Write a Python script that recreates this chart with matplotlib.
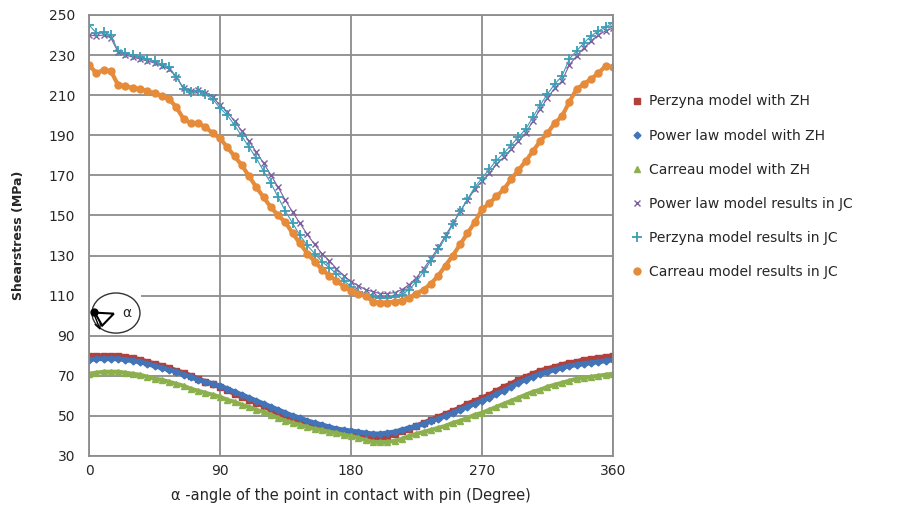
import matplotlib
matplotlib.use("Agg")
import matplotlib.pyplot as plt
import numpy as np
from matplotlib.patches import Ellipse, Rectangle, Polygon

# angle of the point in contact with pin, every 5 degrees
angle = list(range(0, 361, 5))

perzyna_zh = [80, 80, 80, 80, 80, 79.5, 79, 78, 77, 76, 75, 74, 72.5, 71.5, 70, 68.5,
              67, 66, 64.5, 63, 61, 59.5, 58, 56.5, 55, 53, 51.5, 50, 49, 47.5, 46.5,
              45.5, 44.5, 43.5, 43, 42, 41.5, 41, 40, 39, 39, 39.5, 41, 42.5, 43.5, 45,
              46.5, 48, 49.5, 51, 52.5, 54, 56, 57.5, 59, 60.5, 62.5, 64.5, 66, 68, 69.5,
              71, 72.5, 73.5, 74.5, 75.5, 76.5, 77, 78, 78.5, 79, 79.5, 80]
power_zh = [78, 78.5, 78.5, 78.5, 78.5, 78, 77.5, 77, 76, 75, 74, 73, 72, 70.5, 69.5, 68,
            67, 66, 65, 63.5, 62, 60.5, 59, 57.5, 56, 54.5, 53, 51.5, 50, 49, 47.5, 46.5,
            45.5, 44.5, 43.5, 43, 42.5, 42, 41.5, 41, 41, 41.5, 42, 43, 44, 45, 46, 47.5,
            48.5, 50, 51.5, 53, 54.5, 56, 57.5, 59, 61, 62.5, 64.5, 66.5, 68, 69.5, 71,
            72, 73, 74, 75, 75.5, 76, 76.5, 77, 77.5, 78]
carreau_zh = [71, 71.5, 72, 72, 72, 71.5, 71, 70.5, 69.5, 68.5, 68, 67, 66, 65, 63.5, 62.5,
              61.5, 60.5, 59.5, 58, 57, 55.5, 54.5, 53, 52, 50.5, 49, 47.5, 46.5, 45.5,
              44.5, 43.5, 43, 42, 41.5, 40.5, 40, 39, 38, 37, 37, 37, 37.5, 38.5, 40, 41,
              42, 43, 44, 45, 46.5, 47.5, 49, 50.5, 51.5, 53, 54.5, 56, 57.5, 59, 60.5, 62,
              63, 64.5, 65.5, 66.5, 67.5, 68.5, 69, 69.5, 70, 70.5, 71]
power_jc = [240, 239.5, 240, 238.5, 231.5, 230, 229, 228, 227, 226, 224.5, 223, 219, 213.5,
            212, 212.5, 211, 209, 205, 201.5, 197, 192, 187, 181.5, 176, 170, 164, 157.5,
            151.5, 146, 140.5, 135.5, 131, 127.5, 123.5, 120, 117, 115, 113, 112, 111, 111,
            111.5, 113, 115.5, 119, 123.5, 128.5, 134, 140, 146, 152, 157.5, 163, 167, 171,
            175.5, 179, 183, 187, 191, 197, 203, 208.5, 213.5, 217, 225, 229.5, 233.5, 237,
            240, 242, 243.5]
perzyna_jc = [245, 241, 241.5, 240, 232, 231, 230, 229, 228, 227, 225.5, 224, 219, 213,
              211.5, 212, 210.5, 208, 203.5, 200, 195, 189.5, 184, 178.5, 172, 166, 159, 152,
              146, 140, 135, 131, 127, 124, 121, 117.5, 114.5, 112, 110.5, 109.5, 109, 109,
              109.5, 110.5, 113, 117, 122, 127.5, 133, 139, 145.5, 152, 158, 164, 168.5, 173,
              177.5, 181, 185, 189, 193, 199, 205, 210.5, 215.5, 219.5, 228, 232, 236, 239.5,
              242, 244, 246]
carreau_jc = [225, 221, 222.5, 222, 215, 214.5, 213.5, 213, 212, 211, 209.5, 208, 204, 198,
              196, 196, 194, 191, 188.5, 184, 179.5, 175, 169.5, 164, 159, 154, 150, 146.5,
              141, 136, 131, 127, 123, 120, 117.5, 114.5, 112.5, 111, 110, 107, 106.5, 106.5,
              107, 107.5, 109, 111, 113, 116, 120, 125, 130, 135.5, 141, 146.5, 153, 156,
              159.5, 163, 168, 172.5, 177, 182, 187, 191, 196, 199.5, 206.5, 213, 215.5, 218,
              221, 224.5, 224]

labels = ["Perzyna model with ZH", "Power law model with ZH", "Carreau model with ZH",
          "Power law model results in JC", "Perzyna model results in JC",
          "Carreau model results in JC"]

text_col = "#262626"
grid_col = "#8c8c8c"

fig = plt.figure(figsize=(9.04, 5.15), dpi=100)
ax = fig.add_axes([0.0985, 0.1146, 0.5795, 0.8564])

ax.plot(angle, perzyna_zh, color="#B2403C", lw=3.5, marker="s", ms=4, label=labels[0])
ax.plot(angle, power_zh, color="#4374B7", lw=3.5, marker="D", ms=3.5, label=labels[1])
ax.plot(angle, carreau_zh, color="#8DB04E", lw=3, marker="^", ms=4, label=labels[2])
ax.plot(angle, power_jc, color="#7D5FA0", lw=0.8, marker="x", ms=5, mew=1, label=labels[3])
ax.plot(angle, perzyna_jc, color="#3C9DB5", lw=0.8, marker="+", ms=6.5, mew=1.3, label=labels[4])
ax.plot(angle, carreau_jc, color="#E58B3A", lw=3, marker="o", ms=5, label=labels[5])

ax.set_xlim(0, 360)
ax.set_ylim(30, 250)
ax.set_xticks([0, 90, 180, 270, 360])
ax.set_yticks(np.arange(30, 251, 20))
ax.grid(True, color=grid_col, lw=1.3)
ax.set_axisbelow(True)
for s in ax.spines.values():
    s.set_color(grid_col)
    s.set_linewidth(1.3)
ax.tick_params(length=0, labelsize=10, colors=text_col)
ax.tick_params(axis="y", pad=10)
ax.tick_params(axis="x", pad=6)

ax.set_xlabel("\u03b1 -angle of the point in contact with pin (Degree)", fontsize=10.5,
              color=text_col, labelpad=7)
ax.set_ylabel("Shearstress (MPa)", fontsize=9, fontweight="bold", color=text_col, labelpad=17)

# little sketch of the pin angle
ax.add_patch(Rectangle((0.5, 91), 35, 21, facecolor="white", edgecolor="none", zorder=1.5))
ax.add_patch(Ellipse((18.5, 101.3), 33, 20, facecolor="none", edgecolor="#333333", lw=1, zorder=3))
ax.add_patch(Polygon([(4, 101.5), (17, 101), (9, 95)], closed=True, facecolor="none",
                     edgecolor="black", lw=1.5, zorder=3))
ax.annotate("", xy=(8.5, 91.5), xytext=(3, 101.5),
            arrowprops=dict(arrowstyle="->", color="black", lw=1), zorder=3)
ax.plot([3.5], [101.8], "o", color="black", ms=5, zorder=4)
ax.text(26, 101.5, "\u03b1", fontsize=10, color=text_col, ha="center", va="center", zorder=4)

leg = fig.legend(loc="upper left", bbox_to_anchor=(0.692, 0.83), frameon=False,
                 fontsize=10, labelspacing=1.45, handlelength=0.6, handletextpad=0.6,
                 borderpad=0)
for h in leg.legend_handles:
    h.set_linestyle("None")
for t in leg.get_texts():
    t.set_color(text_col)

fig.savefig("out.png", dpi=100)
